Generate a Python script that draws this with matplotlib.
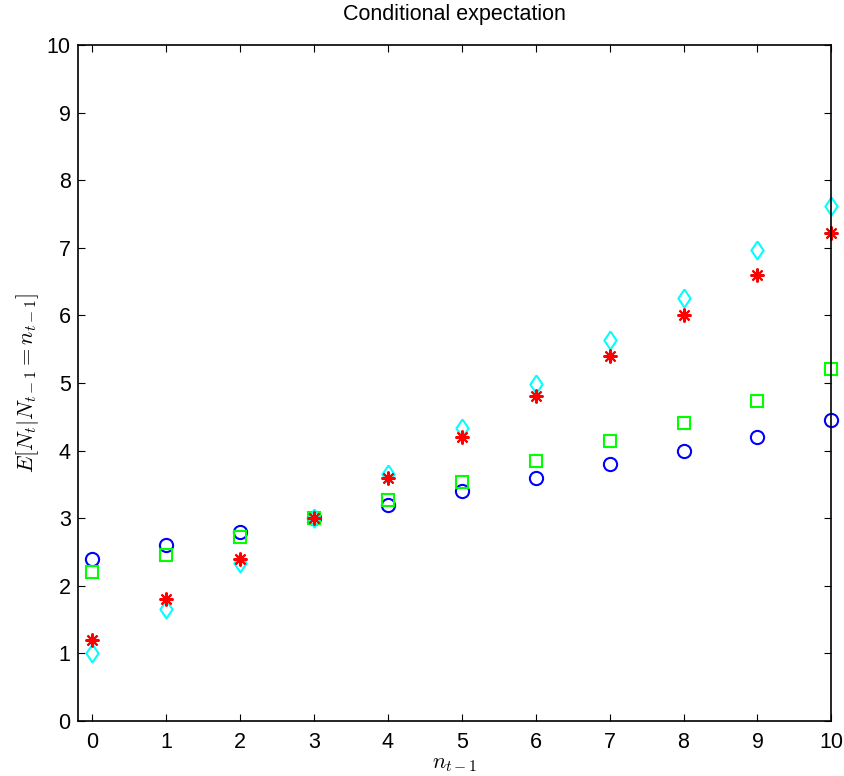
import numpy as np
import matplotlib.pyplot as plt

plt.rcParams['font.family'] = ['Liberation Sans', 'DejaVu Sans']
plt.rcParams['mathtext.fontset'] = 'cm'

# data
n_prev = [0, 1, 2, 3, 4, 5, 6, 7, 8, 9, 10]
e_blue = [2.4, 2.6, 2.8, 3.0, 3.2, 3.4, 3.6, 3.8, 4.0, 4.2, 4.45]
e_green = [2.2, 2.46, 2.72, 3.0, 3.27, 3.54, 3.84, 4.14, 4.41, 4.74, 5.2]
e_cyan = [1.0, 1.66, 2.33, 3.0, 3.66, 4.33, 4.98, 5.64, 6.25, 6.96, 7.62]
e_red = [1.2, 1.8, 2.4, 3.0, 3.6, 4.2, 4.8, 5.4, 6.0, 6.6, 7.22]

diamond = [(0, 1), (0.68, 0), (0, -1), (-0.68, 0), (0, 1)]

fig = plt.figure(figsize=(8.44, 7.76), dpi=100)
ax = fig.add_axes([0.092, 0.071, 0.893, 0.871])

ax.plot(n_prev, e_blue, ls='none', marker='o', ms=9.5, mfc='none', mec=(0, 0, 1), mew=1.5, clip_on=False)
ax.plot(n_prev, e_green, ls='none', marker='s', ms=8, mfc='none', mec=(0, 1, 0), mew=1.5, clip_on=False)
ax.plot(n_prev, e_cyan, ls='none', marker=diamond, ms=13, mfc='none', mec=(0, 1, 1), mew=1.5, clip_on=False)
ax.plot(n_prev, e_red, ls='none', marker=(8, 2, 0), ms=10, mfc='none', mec=(1, 0, 0), mew=1.5, clip_on=False)

ax.set_xlim(-0.2, 10)
ax.set_ylim(0, 10)
ax.set_xticks(range(0, 11))
ax.set_yticks(range(0, 11))
ax.tick_params(direction='in', length=5, width=0.8, top=True, right=True, labelsize=15.5)
ax.tick_params(axis='x', pad=8)
ax.tick_params(axis='y', pad=5)
for s in ax.spines.values():
    s.set_linewidth(1.2)

ax.set_title('Conditional expectation', fontsize=15.5, pad=18)
ax.set_xlabel(r'$n_{t-1}$', fontsize=16, labelpad=0)
ax.set_ylabel(r'$E[N_t|N_{t-1}=n_{t-1}]$', fontsize=16, labelpad=4)

fig.savefig('out.png', dpi=100)
